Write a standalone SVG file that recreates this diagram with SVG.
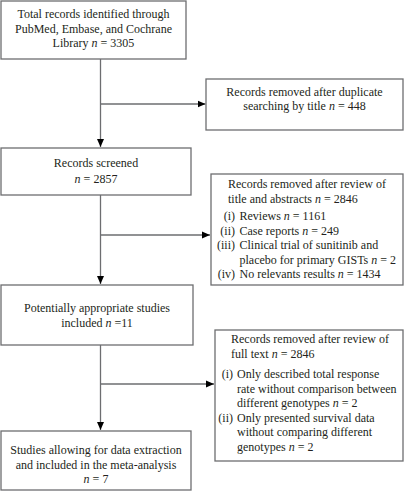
<svg xmlns="http://www.w3.org/2000/svg" width="404" height="500" viewBox="0 0 404 500">
<style>
.box{fill:#fff;stroke:#6d6e70;stroke-width:1.3}
.t{font-family:"Liberation Serif","Times New Roman",serif;font-size:12px;fill:#231f20}
.c{text-anchor:middle}
.r{text-anchor:end}
.i{font-style:italic}
.ln{stroke:#6d6e70;stroke-width:1.3;fill:none}
</style>
<defs>
<marker id="ah" viewBox="0 0 8 8" refX="8" refY="4" markerWidth="8" markerHeight="8" markerUnits="userSpaceOnUse" orient="auto">
<path d="M0,0.5 L8,4 L0,7.5 Z" fill="#000"/>
</marker>
</defs>
<rect width="404" height="500" fill="#fff"/>
<g id="connectors">
<line class="ln" x1="100.5" y1="59" x2="100.5" y2="147" marker-end="url(#ah)"/>
<line class="ln" x1="100.5" y1="104" x2="205.5" y2="104" marker-end="url(#ah)"/>
<line class="ln" x1="100.5" y1="195" x2="100.5" y2="284" marker-end="url(#ah)"/>
<line class="ln" x1="100.5" y1="235" x2="210" y2="235" marker-end="url(#ah)"/>
<line class="ln" x1="100.5" y1="345" x2="100.5" y2="430" marker-end="url(#ah)"/>
<line class="ln" x1="100.5" y1="384" x2="214" y2="384" marker-end="url(#ah)"/>
</g>
<g id="n1">
<rect class="box" x="1" y="1" width="185" height="58"/>
<text class="t c" x="93.5" y="18">Total records identified through</text>
<text class="t c" x="93.5" y="32.5">PubMed, Embase, and Cochrane</text>
<text class="t c" x="93.5" y="47">Library <tspan class="i">n</tspan> = 3305</text>
</g>
<g id="n2">
<rect class="box" x="206" y="79" width="197" height="51"/>
<text class="t c" x="304.5" y="96">Records removed after duplicate</text>
<text class="t c" x="304.5" y="110">searching by title <tspan class="i">n</tspan> = 448</text>
</g>
<g id="n3">
<rect class="box" x="1" y="148" width="190" height="47"/>
<text class="t c" x="96" y="167">Records screened</text>
<text class="t c" x="96" y="182.5"><tspan class="i">n</tspan> = 2857</text>
</g>
<g id="n4">
<rect class="box" x="211" y="174" width="192" height="111"/>
<text class="t" x="228" y="188">Records removed after review of</text>
<text class="t" x="228" y="203">title and abstracts <tspan class="i">n</tspan> = 2846</text>
<text class="t r" x="235" y="220">(i)</text>
<text class="t" x="239.5" y="220">Reviews <tspan class="i">n</tspan> = 1161</text>
<text class="t r" x="235" y="234.5">(ii)</text>
<text class="t" x="239.5" y="234.5">Case reports <tspan class="i">n</tspan> = 249</text>
<text class="t r" x="235" y="249">(iii)</text>
<text class="t" x="239.5" y="249">Clinical trial of sunitinib and</text>
<text class="t" x="239.5" y="263.5">placebo for primary GISTs <tspan class="i">n</tspan> = 2</text>
<text class="t r" x="235" y="278">(iv)</text>
<text class="t" x="239.5" y="278">No relevants results <tspan class="i">n</tspan> = 1434</text>
</g>
<g id="n5">
<rect class="box" x="1" y="285" width="192" height="60"/>
<text class="t c" x="97" y="312">Potentially appropriate studies</text>
<text class="t c" x="97" y="326.5">included <tspan class="i">n</tspan> =11</text>
</g>
<g id="n6">
<rect class="box" x="215" y="330" width="188" height="131"/>
<text class="t" x="231" y="343">Records removed after review of</text>
<text class="t" x="231" y="357.5">full text <tspan class="i">n</tspan> = 2846</text>
<text class="t r" x="233" y="378">(i)</text>
<text class="t" x="237" y="378">Only described total response</text>
<text class="t" x="237" y="392.5">rate without comparison between</text>
<text class="t" x="237" y="407">different genotypes <tspan class="i">n</tspan> = 2</text>
<text class="t r" x="233" y="421.5">(ii)</text>
<text class="t" x="237" y="421.5">Only presented survival data</text>
<text class="t" x="237" y="436">without comparing different</text>
<text class="t" x="237" y="450.5">genotypes <tspan class="i">n</tspan> = 2</text>
</g>
<g id="n7">
<rect class="box" x="1" y="431" width="190" height="59"/>
<text class="t c" x="96" y="454">Studies allowing for data extraction</text>
<text class="t c" x="96" y="468.5">and included in the meta-analysis</text>
<text class="t c" x="96" y="483"><tspan class="i">n</tspan> = 7</text>
</g>
</svg>
